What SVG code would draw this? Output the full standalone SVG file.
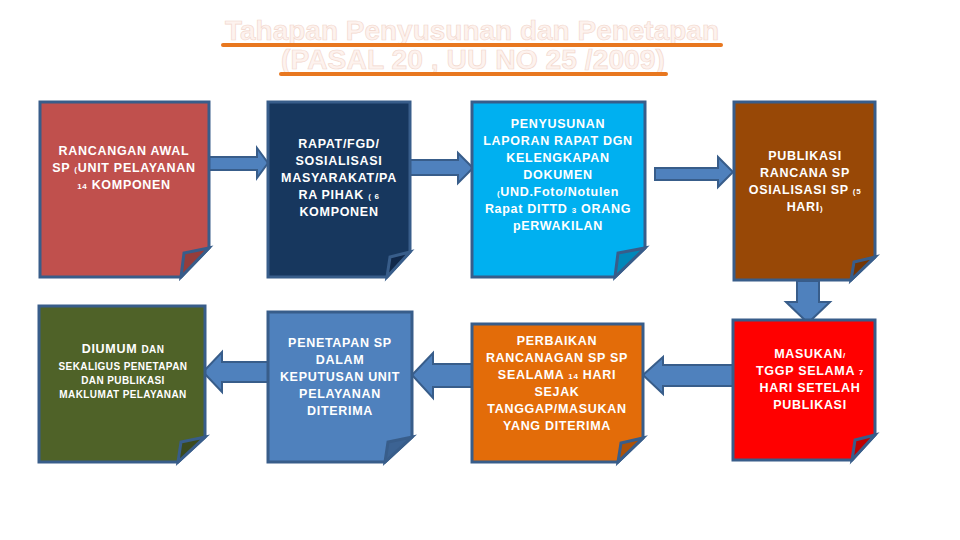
<svg xmlns="http://www.w3.org/2000/svg" width="960" height="540" viewBox="0 0 960 540">
<style>
.box{stroke:#385D8A;stroke-width:3;stroke-linejoin:miter}
.fold{stroke:#385D8A;stroke-width:3;stroke-linejoin:miter}
.arr{fill:#4F81BD;stroke:#385D8A;stroke-width:2;stroke-linejoin:miter}
.t{font-family:"Liberation Sans",Arial,sans-serif;font-weight:bold;font-size:12.5px;fill:#FFFFFF;text-anchor:middle;letter-spacing:0.7px}
.s{font-size:8px}
.m{font-size:10px;letter-spacing:0.4px}
.title{font-family:"Liberation Sans",Arial,sans-serif;font-weight:bold;font-size:27px;fill:#FDF2EE;stroke:#F2D6CB;stroke-width:0.6;text-anchor:middle}
.ul{stroke:#E8771F;stroke-width:4;stroke-linecap:round}
</style>
<rect width="960" height="540" fill="#FFFFFF"/>
<g id="title">
<text class="title" x="472" y="40" textLength="494" lengthAdjust="spacingAndGlyphs">Tahapan Penyusunan dan Penetapan</text>
<line class="ul" x1="223" y1="45" x2="721" y2="45"/>
<text class="title" x="473" y="69" textLength="384" lengthAdjust="spacingAndGlyphs">(PASAL 20 , UU NO 25 /2009)</text>
<line class="ul" x1="281" y1="74" x2="666" y2="74"/>
</g>
<g id="connectors">
<polygon class="arr" points="209,157 257,157 257,148 268,163 257,178 257,170 209,170"/>
<polygon class="arr" points="410,160 458,160 458,153 473,168 458,183 458,175 410,175"/>
<polygon class="arr" points="655,168 718,168 718,157 733,172 718,187 718,180 655,180"/>
<polygon class="arr" points="797,281 819,281 819,302 830,302 808,323 786,302 797,302"/>
<polygon class="arr" points="733,365 663,365 663,357 643,375 663,394 663,386 733,386"/>
<polygon class="arr" points="472,364 433,364 433,353 412,375 433,398 433,387 472,387"/>
<polygon class="arr" points="268,362 222,362 222,352 203,372 222,392 222,382 268,382"/>
</g>
<g id="n1">
<polygon class="box" fill="#C0504D" points="40,102 209,102 209,248 181,277 40,277"/>
<polygon class="fold" fill="#963D3B" points="181,277 184,253 209,248"/>
<text class="t" y="155"><tspan x="124">RANCANGAN AWAL</tspan><tspan x="124" dy="17">SP <tspan class="s">(</tspan>UNIT PELAYANAN</tspan><tspan x="124" dy="17"><tspan class="s">14</tspan> KOMPONEN</tspan></text>
</g>
<g id="n2">
<polygon class="box" fill="#17375E" points="268,102 410,102 410,252 387,277 268,277"/>
<polygon class="fold" fill="#10284A" points="387,277 390,257 410,252"/>
<text class="t" y="148"><tspan x="339">RAPAT/FGD/</tspan><tspan x="339" dy="17">SOSIALISASI</tspan><tspan x="339" dy="17">MASYARAKAT/PA</tspan><tspan x="339" dy="17">RA PIHAK  <tspan class="s">( 6</tspan></tspan><tspan x="339" dy="17">KOMPONEN</tspan></text>
</g>
<g id="n3">
<polygon class="box" fill="#00B0F0" points="472,102 645,102 645,248 615,277 472,277"/>
<polygon class="fold" fill="#0088BA" points="615,277 618,253 645,248"/>
<text class="t" y="128"><tspan x="558">PENYUSUNAN</tspan><tspan x="558" dy="17">LAPORAN RAPAT DGN</tspan><tspan x="558" dy="17">KELENGKAPAN</tspan><tspan x="558" dy="17">DOKUMEN</tspan><tspan x="558" dy="17"><tspan class="s">(</tspan>UND.Foto/Notulen</tspan><tspan x="558" dy="17">Rapat DITTD <tspan class="s">3</tspan> ORANG</tspan><tspan x="558" dy="17">pERWAKILAN</tspan></text>
</g>
<g id="n4">
<polygon class="box" fill="#984806" points="734,102 875,102 875,257 851,280 734,280"/>
<polygon class="fold" fill="#743604" points="851,280 854,262 875,257"/>
<text class="t" y="160"><tspan x="805">PUBLIKASI</tspan><tspan x="805" dy="17">RANCANA SP</tspan><tspan x="805" dy="17">OSIALISASI SP <tspan class="s">(5</tspan></tspan><tspan x="805" dy="17">HARI<tspan class="s">)</tspan></tspan></text>
</g>
<g id="n5">
<polygon class="box" fill="#4F6228" points="39,306 205,306 205,437 178,462 39,462"/>
<polygon class="fold" fill="#3B4A1E" points="178,462 181,442 205,437"/>
<text class="t" y="353"><tspan x="123">DIUMUM <tspan class="m">DAN</tspan></tspan><tspan class="m" x="123" dy="17">SEKALIGUS PENETAPAN</tspan><tspan class="m" x="123" dy="14">DAN PUBLIKASI</tspan><tspan class="m" x="123" dy="14">MAKLUMAT PELAYANAN</tspan></text>
</g>
<g id="n6">
<polygon class="box" fill="#4F81BD" points="268,312 412,312 412,437 385,462 268,462"/>
<polygon class="fold" fill="#3C6393" points="385,462 388,442 412,437"/>
<text class="t" y="347"><tspan x="340">PENETAPAN SP</tspan><tspan x="340" dy="17">DALAM</tspan><tspan x="340" dy="17">KEPUTUSAN UNIT</tspan><tspan x="340" dy="17">PELAYANAN</tspan><tspan x="340" dy="17">DITERIMA</tspan></text>
</g>
<g id="n7">
<polygon class="box" fill="#E36C09" points="472,324 643,324 643,438 618,462 472,462"/>
<polygon class="fold" fill="#AE5207" points="618,462 621,443 643,438"/>
<text class="t" y="345"><tspan x="557">PERBAIKAN</tspan><tspan x="557" dy="17">RANCANAGAN SP SP</tspan><tspan x="557" dy="17">SEALAMA <tspan class="s">14</tspan> HARI</tspan><tspan x="557" dy="17">SEJAK</tspan><tspan x="557" dy="17">TANGGAP/MASUKAN</tspan><tspan x="557" dy="17">YANG DITERIMA</tspan></text>
</g>
<g id="n8">
<polygon class="box" fill="#FF0000" points="733,320 875,320 875,435 852,460 733,460"/>
<polygon class="fold" fill="#C00000" points="852,460 855,440 875,435"/>
<text class="t" y="358"><tspan x="810">MASUKAN<tspan class="s">/</tspan></tspan><tspan x="810" dy="17">TGGP SELAMA <tspan class="s">7</tspan></tspan><tspan x="810" dy="17">HARI SETELAH</tspan><tspan x="810" dy="17">PUBLIKASI</tspan></text>
</g>
</svg>
